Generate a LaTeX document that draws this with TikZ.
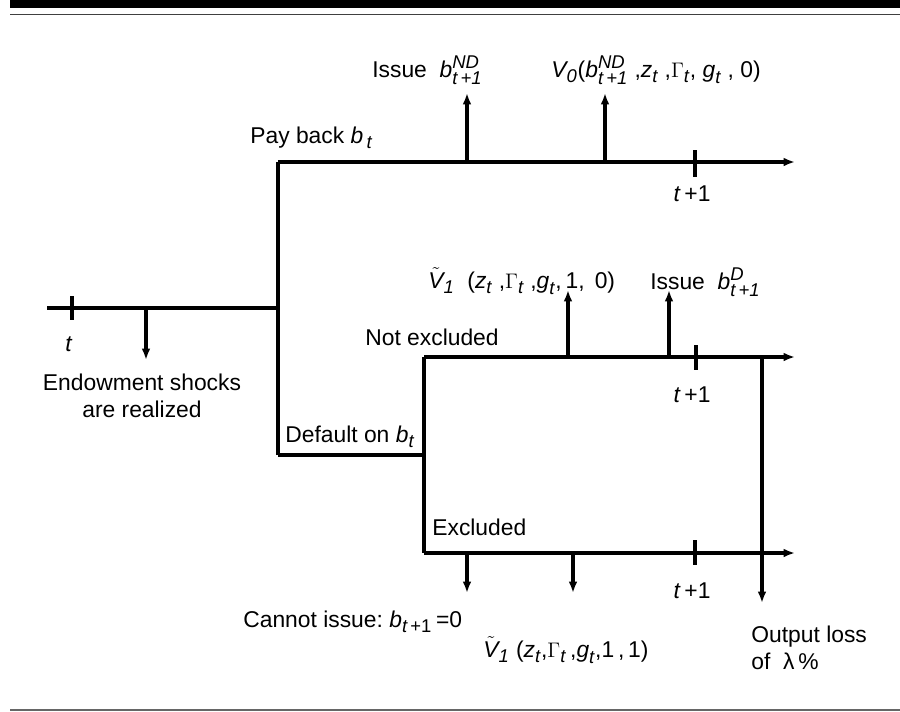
\documentclass[tikz,border=0pt]{standalone}
\usepackage{amsmath}
\usepackage{fontspec}
\setmainfont{Liberation Sans}
\usetikzlibrary{arrows.meta}
\DeclareMathSizes{13}{13}{10.5}{8}

\newcommand{\var}[1]{\textit{#1}}
\newcommand{\tpo}{\var{t}\,\var{+1}}
\newcommand{\up}[1]{\text{#1}}

\begin{document}
\begin{tikzpicture}[x=0.02cm,y=-0.02cm,
    timeline/.style={line width=2.2pt},
    move/.style={line width=2.2pt,-{Latex[length=6.5pt,width=5pt]}},
    tick/.style={line width=2.2pt},
    lbl/.style={inner sep=0pt,font=\fontsize{13}{15.5}\selectfont}]
    \useasboundingbox (0,0) rectangle (900,711);
    % frame rules
    \fill (10,0) rectangle (900,8);
    \draw[line width=0.9pt,black!75] (10,14.5)--(900,14.5);
    \draw[line width=1.1pt,black!60] (10,710)--(900,710);
    % branch points
    \coordinate (start) at (47,308);
    \coordinate (split) at (278,308);
    \coordinate (pay) at (278,162);
    \coordinate (dflt) at (278,455);
    \coordinate (dsplit) at (424,455);
    \coordinate (notex) at (424,357);
    \coordinate (excl) at (424,553);
    \coordinate (payend) at (795,162);
    \coordinate (notexend) at (795,357);
    \coordinate (exclend) at (795,553);
    % period t
    \draw[timeline] (start)--(split);
    \draw[tick] (72,296)--(72,320);
    \draw[move] (146,308)--(146,360);
    \node[lbl] (t) at (69,344) {\var{t}};
    \node[lbl,align=center] (shock) at (142,396) {Endowment shocks\\are realized};
    % repay branch
    \draw[timeline] (dflt)--(pay);
    \draw[move] (pay)--(payend);
    \draw[move] (467,162)--(467,93);
    \draw[move] (605,162)--(605,93);
    \draw[tick] (695,150)--(695,177);
    \node[lbl] (tpa) at (692,194) {\var{t}\,+1};
    \node[lbl,anchor=west] (payb) at (250,138) {Pay back $\var{b}_{\,\var{t}}$};
    \node[lbl,anchor=west] (issnd) at (372,70) {Issue\ \ $\var{b}^{\var{ND}}_{\tpo}$};
    \node[lbl,anchor=west] (vnd) at (551,70) {$\var{V}_{\var{0}}\up{(}\var{b}^{\var{ND}}_{\tpo}\up{ ,}\var{z}_{\var{t}}\up{ ,}\Gamma_{\var{t}}\up{, }\var{g}_{\var{t}}\up{ , 0)}$};
    % default branch
    \draw[timeline] (dflt)--(dsplit);
    \draw[timeline] (notex)--(excl);
    \node[lbl,anchor=west] (dfl) at (285,437) {Default on $\var{b}_{\var{t}}$};
    % not excluded
    \draw[move] (notex)--(notexend);
    \draw[move] (568,357)--(568,290);
    \draw[move] (669,357)--(669,290);
    \draw[tick] (696,345)--(696,370);
    \node[lbl] (tpb) at (692,395) {\var{t}\,+1};
    \node[lbl,anchor=west] (nexl) at (365,337) {Not excluded};
    \node[lbl,anchor=west] (vne) at (428,281) {$\tilde{\var{V}}_{\var{1}}\up{\ \ (}\var{z}_{\var{t}}\up{ ,}\Gamma_{\var{t}}\up{ ,}\var{g}_{\var{t}}\up{,\,1, \,0)}$};
    \node[lbl,anchor=west] (issd) at (650,282) {Issue\ \ $\var{b}^{\var{D}}_{\tpo}$};
    % excluded
    \draw[move] (excl)--(exclend);
    \draw[move] (467,553)--(467,593);
    \draw[move] (573,553)--(573,593);
    \draw[tick] (695,540)--(695,565);
    \node[lbl] (tpc) at (692,591) {\var{t}\,+1};
    \node[lbl,anchor=west] (exl) at (432,527) {Excluded};
    \node[lbl,anchor=west] (noiss) at (243,622) {Cannot issue:\ $\var{b}_{\var{t}\,\up{+1}}\up{\,=0}$};
    \node[lbl,anchor=west] (vex) at (483,650) {$\tilde{\var{V}}_{\var{1}}\up{\ (}\var{z}_{\var{t}}\up{,}\Gamma_{\var{t}}\up{\,,}\var{g}_{\var{t}}\up{,1\,,\,1)}$};
    % output loss
    \draw[move] (762,357)--(762,603);
    \node[lbl,anchor=west,align=left] (loss) at (751,648) {Output loss\\of \ λ\,\%};
\end{tikzpicture}
\end{document}
